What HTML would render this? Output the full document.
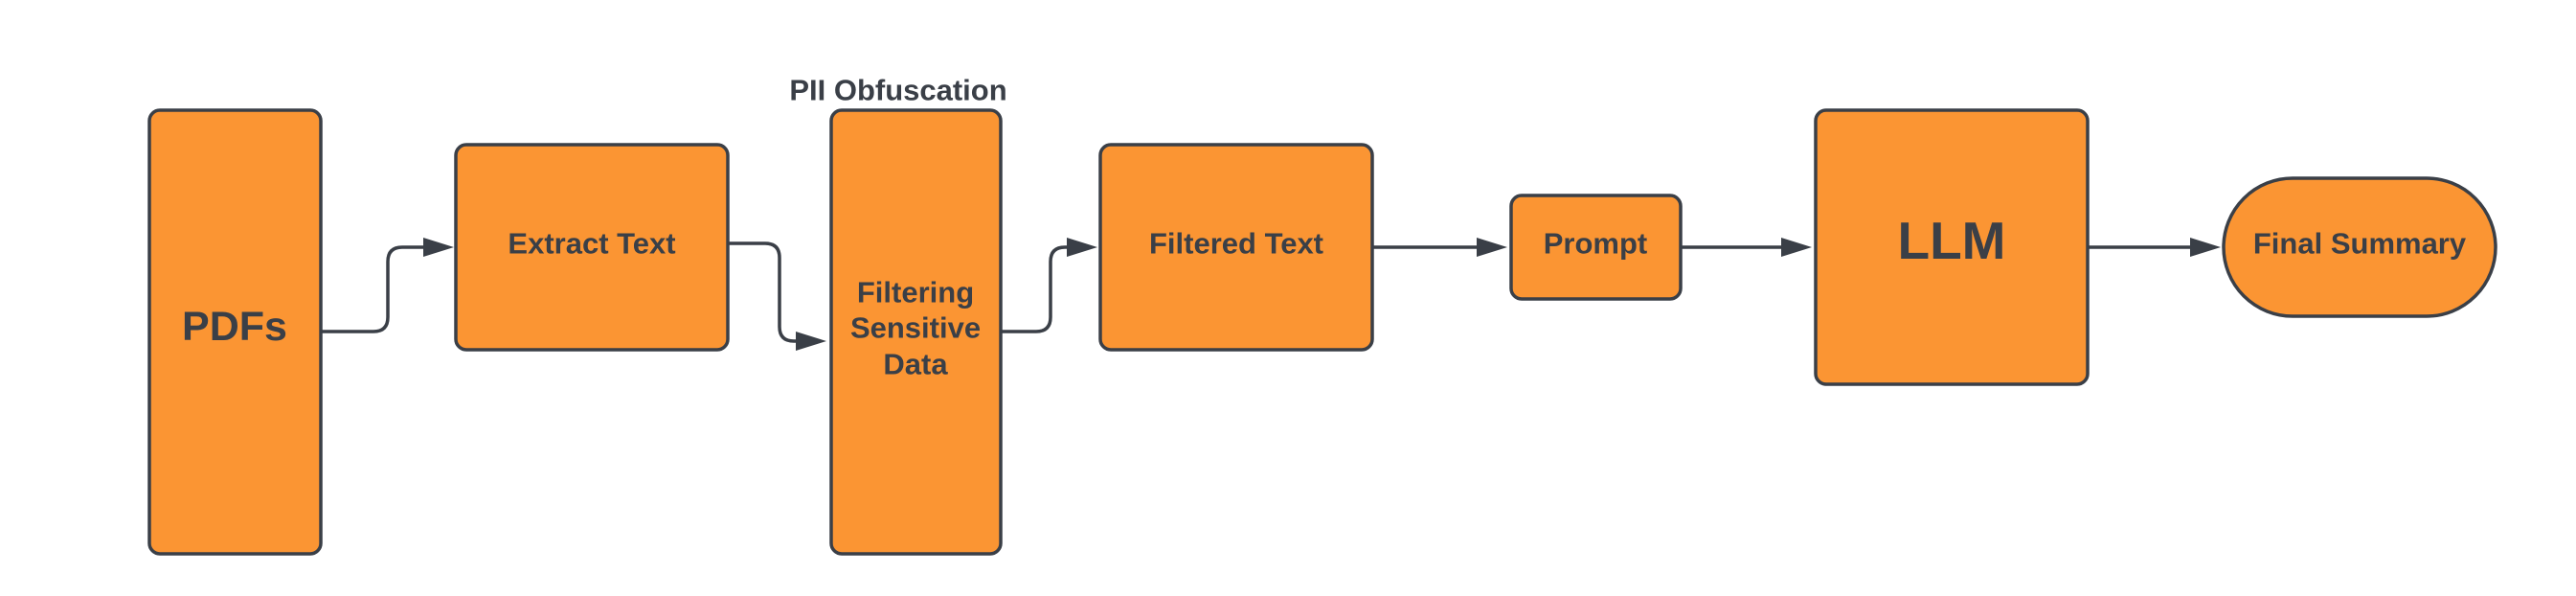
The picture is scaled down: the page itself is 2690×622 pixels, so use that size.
<!DOCTYPE html>
<html><head><meta charset="utf-8"><style>
html,body{margin:0;padding:0;background:#fff;}
svg text{font-family:"Liberation Sans",Arial,sans-serif;font-weight:bold;fill:#3a3f47;text-anchor:middle;dominant-baseline:central;}
</style></head><body>
<svg width="2690" height="617" viewBox="0 0 2690 617" xmlns="http://www.w3.org/2000/svg">
<g fill="#fb9533" stroke="#3a3f47" stroke-width="3.5">
<rect x="156" y="115" width="179" height="463" rx="11"/>
<rect x="476" y="151" width="284" height="214" rx="11"/>
<rect x="868" y="115" width="177" height="463" rx="11"/>
<rect x="1149" y="151" width="284" height="214" rx="11"/>
<rect x="1578" y="204" width="177" height="108" rx="11"/>
<rect x="1896" y="115" width="284" height="286" rx="11"/>
<rect x="2322" y="186" width="284" height="144" rx="72"/>
</g>
<g fill="none" stroke="#3a3f47" stroke-width="3.5">
<path d="M335 346 H390 Q405 346 405 331 V273 Q405 258 420 258 H444"/>
<path d="M760 254 H799 Q814 254 814 269 V341 Q814 356 829 356 H833"/>
<path d="M1045 346 H1082 Q1097 346 1097 331 V273 Q1097 258 1112 258 H1116"/>
<path d="M1433 258 H1544"/>
<path d="M1755 258 H1862"/>
<path d="M2180 258 H2289"/>
</g>
<g fill="#3a3f47">
<polygon points="442,248 474,258 442,268"/>
<polygon points="831,346 863,356 831,366"/>
<polygon points="1114,248 1146,258 1114,268"/>
<polygon points="1542,248 1574,258 1542,268"/>
<polygon points="1860,248 1892,258 1860,268"/>
<polygon points="2287,248 2319,258 2287,268"/>
</g>
<text x="938" y="94" font-size="31">PII Obfuscation</text>
<text x="245" y="341" font-size="43">PDFs</text>
<text x="618" y="254" font-size="31">Extract Text</text>
<text x="956" y="305" font-size="31">Filtering</text>
<text x="956" y="342" font-size="31">Sensitive</text>
<text x="956" y="380" font-size="31">Data</text>
<text x="1291" y="254" font-size="31">Filtered Text</text>
<text x="1666" y="254" font-size="31">Prompt</text>
<text x="2038" y="251" font-size="55">LLM</text>
<text x="2464" y="254" font-size="31">Final Summary</text>
</svg>
</body></html>
